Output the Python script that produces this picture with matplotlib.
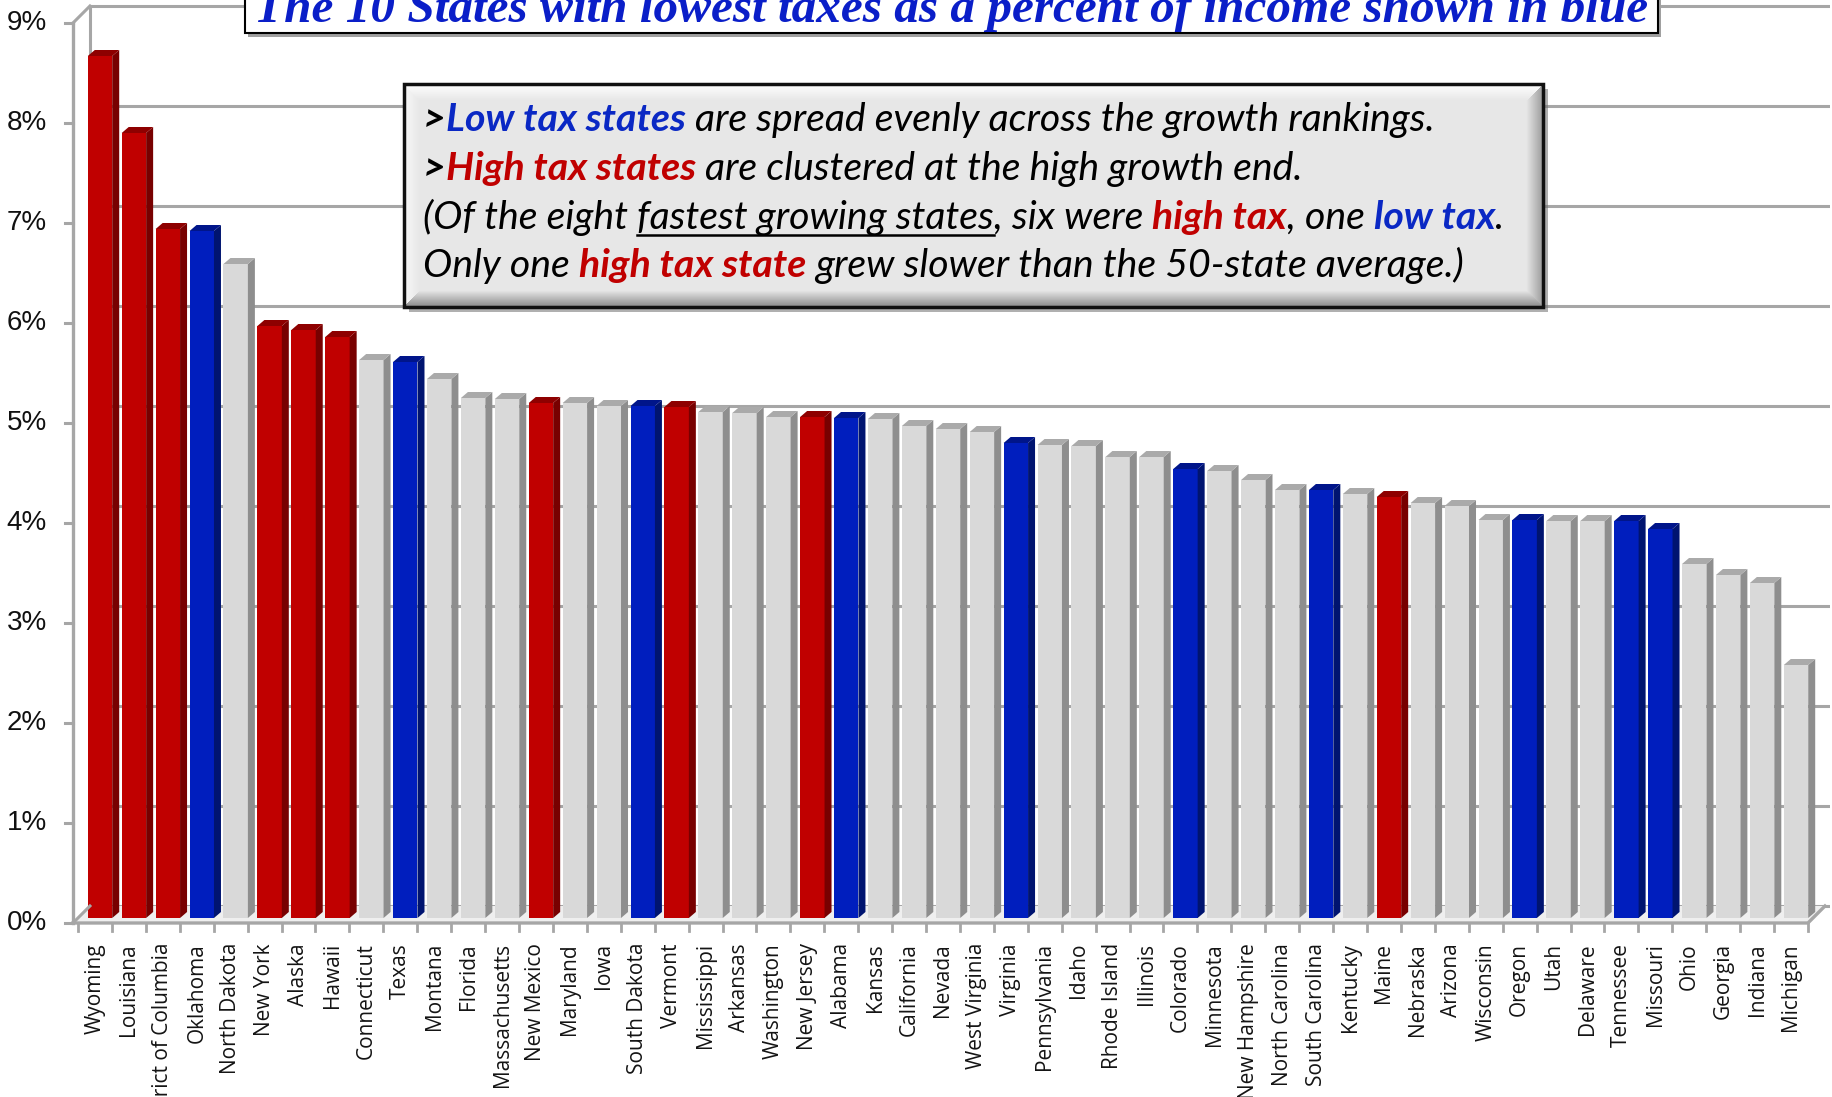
import numpy as np
import matplotlib
matplotlib.use("Agg")
import matplotlib.pyplot as plt
from matplotlib.patches import Polygon, Rectangle

states = ["Wyoming", "Louisiana", "District of Columbia", "Oklahoma", "North Dakota",
          "New York", "Alaska", "Hawaii", "Connecticut", "Texas", "Montana", "Florida",
          "Massachusetts", "New Mexico", "Maryland", "Iowa", "South Dakota", "Vermont",
          "Mississippi", "Arkansas", "Washington", "New Jersey", "Alabama", "Kansas",
          "California", "Nevada", "West Virginia", "Virginia", "Pennsylvania", "Idaho",
          "Rhode Island", "Illinois", "Colorado", "Minnesota", "New Hampshire",
          "North Carolina", "South Carolina", "Kentucky", "Maine", "Nebraska", "Arizona",
          "Wisconsin", "Oregon", "Utah", "Delaware", "Tennessee", "Missouri", "Ohio",
          "Georgia", "Indiana", "Michigan"]
growth = [8.62, 7.85, 6.89, 6.87, 6.54, 5.92, 5.88, 5.81, 5.58, 5.56,
          5.39, 5.20, 5.19, 5.15, 5.15, 5.12, 5.12, 5.11, 5.06, 5.05,
          5.01, 5.01, 5.00, 4.99, 4.92, 4.89, 4.86, 4.75, 4.73, 4.72,
          4.61, 4.61, 4.49, 4.47, 4.38, 4.28, 4.28, 4.24, 4.21, 4.15,
          4.12, 3.98, 3.98, 3.97, 3.97, 3.97, 3.89, 3.54, 3.43, 3.35, 2.53]
high_tax = ["Wyoming", "Louisiana", "District of Columbia", "New York", "Alaska",
            "Hawaii", "New Mexico", "Vermont", "New Jersey", "Maine"]
low_tax = ["Oklahoma", "Texas", "South Dakota", "Alabama", "Virginia", "Colorado",
           "South Carolina", "Oregon", "Tennessee", "Missouri"]
yticks = list(range(10))

title = "The 10 States with lowest taxes as a percent of income shown in blue"
BLUE_TXT = "#0A28C4"
RED_TXT = "#C00000"
note_lines = [
    [(">", "black", True, False), ("Low tax states", BLUE_TXT, True, False),
     (" are spread evenly across the growth rankings.", "black", False, False)],
    [(">", "black", True, False), ("High tax states", RED_TXT, True, False),
     (" are clustered at the high growth end.", "black", False, False)],
    [("(Of the eight ", "black", False, False), ("fastest growing states", "black", False, True),
     (", six were ", "black", False, False), ("high tax", RED_TXT, True, False),
     (", one ", "black", False, False), ("low tax", BLUE_TXT, True, False),
     (".", "black", False, False)],
    [("Only one ", "black", False, False), ("high tax state", RED_TXT, True, False),
     (" grew slower than the 50-state average.)", "black", False, False)],
]

W, H = 1833, 1097
fig = plt.figure(figsize=(W / 100, H / 100), dpi=100)

# pixel layout of the plot area
step = 33.92      # px between bar centres
x_first = 100     # px of the first bar centre
base_y = 918      # px from top of the bar bottoms
per_pct = 100     # px per percentage point
xlim = (-2.0, 51.0)
ylim = (-0.3, 9.2)
ax = fig.add_axes([(x_first + xlim[0] * step) / W,
                   (H - base_y + ylim[0] * per_pct) / H,
                   (xlim[1] - xlim[0]) * step / W,
                   (ylim[1] - ylim[0]) * per_pct / H])
ax.set_xlim(*xlim)
ax.set_ylim(*ylim)
ax.axis("off")

PX, PY = 1 / step, 1 / per_pct
fdx, fdy = -5 * PX, -5 * PY      # front plane offset
bdx, bdy = 12 * PX, 12 * PY      # back wall offset
x_ax = -0.65
x_end = len(states) - 0.5
GRID = "#A6A6A6"

# back wall gridlines
for v in yticks:
    ax.plot([x_ax + bdx, 53], [v + bdy, v + bdy], color=GRID, lw=2.2,
            solid_capstyle="butt", zorder=1)
ax.plot([x_ax + bdx] * 2, [bdy, 9 + bdy], color=GRID, lw=2.2, zorder=1)

# floor
floor = Polygon([(x_ax + fdx, fdy), (x_end + fdx, fdy), (x_end + bdx, bdy), (x_ax + bdx, bdy)],
                closed=True, fc="#EFEFEF", ec="none", zorder=1.5)
ax.add_patch(floor)
ax.plot([x_ax + fdx, x_end + fdx, x_end + bdx], [fdy, fdy, bdy], color=GRID, lw=2.4, zorder=4)

# left axis
ax.plot([x_ax + fdx] * 2, [fdy, 9 + fdy], color=GRID, lw=2.4, zorder=4)
for v in (0, 9):
    ax.plot([x_ax + fdx, x_ax + bdx], [v + fdy, v + bdy], color=GRID, lw=2.2, zorder=4)
for v in yticks:
    ax.plot([x_ax + fdx - 8 * PX, x_ax + fdx], [v + fdy] * 2, color=GRID, lw=2.2, zorder=4)
    ax.text(x_ax + fdx - 26 * PX, v + fdy, f"{v}%", ha="right", va="center", fontsize=20,
            family="Liberation Sans", color="#111111")

# x ticks and state labels
for i in range(len(states) + 1):
    xt = i - 0.5 + fdx
    ax.plot([xt, xt], [fdy, fdy - 8 * PY], color=GRID, lw=2, zorder=4)
for i, s in enumerate(states):
    ax.text(i + fdx, fdy - 20 * PY, s, rotation=90, ha="center", va="top", fontsize=15,
            family="Open Sans", color="#141414")

# bars with side and top faces
bw = 0.72
sdx, sdy = 7 * PX, 6 * PY
x = np.arange(len(states))
fronts, sides, tops = [], [], []
for s in states:
    if s in high_tax:
        f, sd, tp = "#C00000", "#780000", "#8E0000"
    elif s in low_tax:
        f, sd, tp = "#001EBE", "#001470", "#00158A"
    else:
        f, sd, tp = "#D9D9D9", "#8E8E8E", "#AAAAAA"
    fronts.append(f)
    sides.append(sd)
    tops.append(tp)
ax.bar(x, growth, width=bw, color=fronts, linewidth=0, zorder=3)
for xi, v, sd, tp in zip(x, growth, sides, tops):
    l, r = xi - bw / 2, xi + bw / 2
    ax.add_patch(Polygon([(r, 0), (r + sdx, sdy), (r + sdx, v + sdy), (r, v)],
                         closed=True, fc=sd, ec="none", zorder=3))
    ax.add_patch(Polygon([(l, v), (r, v), (r + sdx, v + sdy), (l + sdx, v + sdy)],
                         closed=True, fc=tp, ec="none", zorder=3))

# overlay in pixel coordinates for the title and the note box
ov = fig.add_axes([0, 0, 1, 1])
ov.set_zorder(5)
ov.axis("off")
renderer = fig.canvas.get_renderer()

# title box
ov.add_patch(Rectangle((248, -10), 1413, 47, fc="#A0A0A0", ec="none", zorder=1))
ov.add_patch(Rectangle((245, -10), 1413, 43, fc="white", ec="black", lw=1.5, zorder=2))
tt = ov.text(951, 22, title, ha="center", va="baseline", fontsize=40,
             family="Liberation Serif", weight="bold", style="italic", color="#0A1EC8", zorder=3)
tt.set_fontsize(40 * 1393 / tt.get_window_extent(renderer).width)

# bevelled note box
bx0, by0, bx1, by1 = 404, 84, 1543, 307
bwid, bhgt = bx1 - bx0, by1 - by0
yy, xx = np.mgrid[0:bhgt, 0:bwid]
d = np.stack([yy, bhgt - 1 - yy, xx, bwid - 1 - xx])
near, dmin = d.argmin(0), d.min(0)
edge_val = np.array([1.0, 0.55, 0.97, 0.62])[near]
face = 0.905
bev = 16
img = np.where(dmin < bev, edge_val + (face - edge_val) * np.clip(dmin / bev, 0, 1), face)
ov.add_patch(Rectangle((bx0 + 5, by0 + 5), bwid, bhgt, fc="#6F6F6F", alpha=0.55, ec="none", zorder=1))
ov.imshow(img, cmap="gray", vmin=0, vmax=1, extent=(bx0, bx1, by1, by0), origin="upper",
          aspect="auto", interpolation="bilinear", zorder=2)
ov.add_patch(Rectangle((bx0, by0), bwid, bhgt, fill=False, ec="#111111", lw=2.5, zorder=3))
ov.set_xlim(0, W)
ov.set_ylim(H, 0)


def text_kw(size, color, bold):
    return dict(fontsize=size, family="Lato", style="italic",
                weight="bold" if bold else "normal", color=color)


def seg_width(s, kw):
    a = ov.text(0, 0, "|" + s + "|", **kw)
    b = ov.text(0, 0, "||", **kw)
    w = a.get_window_extent(renderer).width - b.get_window_extent(renderer).width
    a.remove()
    b.remove()
    return w


def line_width(segs, size):
    return sum(seg_width(t, text_kw(size, c, bo)) for t, c, bo, _ in segs)


def draw_line(x0, y0, segs, size):
    xc = x0
    for t, c, bo, under in segs:
        kw = text_kw(size, c, bo)
        body = t.lstrip(" ")
        lead = len(t) - len(body)
        xs = xc + (seg_width(" " * lead, kw) if lead else 0)
        ov.text(xs, y0, body, ha="left", va="baseline", zorder=4, **kw)
        if under:
            ov.plot([xs, xs + seg_width(body, kw)], [y0 + 6, y0 + 6], color="black",
                    lw=1.8, zorder=4)
        xc += seg_width(t, kw)


note_size = 30 * 1010 / line_width(note_lines[0], 30)
for segs, yb in zip(note_lines, [131, 180, 229, 277]):
    draw_line(423, yb, segs, note_size)

fig.savefig("out.png", dpi=100)
